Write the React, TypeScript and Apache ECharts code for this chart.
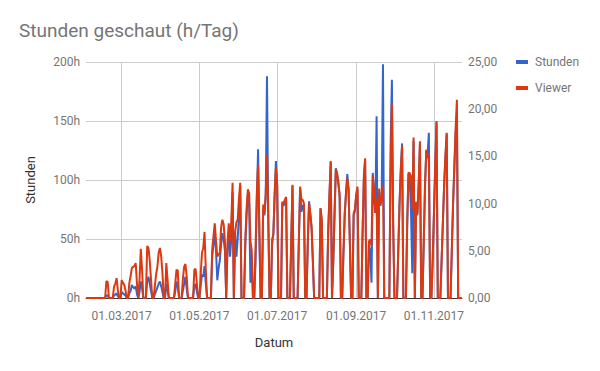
import React, { useEffect, useRef } from 'react';
import * as echarts from 'echarts';

// Axis range (daily categories from first to last day)
const firstDay = [2017, 2, 1];
const lastDay = [2017, 11, 23];
const tickLabels = ['01.03.2017', '01.05.2017', '01.07.2017', '01.09.2017', '01.11.2017'];

// Days with streams (all other days are 0)
const streamDates = [
  '17.02.2017', '18.02.2017', '23.02.2017', '24.02.2017', '25.02.2017', '26.02.2017',
  '01.03.2017', '02.03.2017', '03.03.2017', '04.03.2017', '07.03.2017', '08.03.2017',
  '09.03.2017', '10.03.2017', '11.03.2017', '12.03.2017', '13.03.2017', '15.03.2017',
  '16.03.2017', '17.03.2017', '21.03.2017', '22.03.2017', '23.03.2017', '24.03.2017',
  '27.03.2017', '28.03.2017', '29.03.2017', '30.03.2017', '31.03.2017', '01.04.2017',
  '02.04.2017', '05.04.2017', '06.04.2017', '12.04.2017', '13.04.2017', '14.04.2017',
  '18.04.2017', '19.04.2017', '20.04.2017', '21.04.2017', '27.04.2017', '28.04.2017',
  '29.04.2017', '02.05.2017', '03.05.2017', '04.05.2017', '05.05.2017', '06.05.2017',
  '11.05.2017', '12.05.2017', '13.05.2017', '14.05.2017', '15.05.2017', '16.05.2017',
  '17.05.2017', '18.05.2017', '19.05.2017', '20.05.2017', '21.05.2017', '23.05.2017',
  '24.05.2017', '25.05.2017', '26.05.2017', '27.05.2017', '29.05.2017', '30.05.2017',
  '31.05.2017', '01.06.2017', '02.06.2017', '06.06.2017', '07.06.2017', '08.06.2017',
  '09.06.2017', '10.06.2017', '11.06.2017', '14.06.2017', '15.06.2017', '16.06.2017',
  '17.06.2017', '20.06.2017', '21.06.2017', '22.06.2017', '23.06.2017', '24.06.2017',
  '27.06.2017', '28.06.2017', '29.06.2017', '30.06.2017', '01.07.2017', '05.07.2017',
  '06.07.2017', '07.07.2017', '08.07.2017', '12.07.2017', '13.07.2017', '18.07.2017',
  '19.07.2017', '20.07.2017', '21.07.2017', '22.07.2017', '25.07.2017', '26.07.2017',
  '27.07.2017', '28.07.2017', '29.07.2017', '04.08.2017', '05.08.2017', '10.08.2017',
  '11.08.2017', '12.08.2017', '14.08.2017', '15.08.2017', '16.08.2017', '17.08.2017',
  '18.08.2017', '19.08.2017', '22.08.2017', '23.08.2017', '24.08.2017', '25.08.2017',
  '26.08.2017', '27.08.2017', '30.08.2017', '31.08.2017', '01.09.2017', '02.09.2017',
  '06.09.2017', '07.09.2017', '08.09.2017', '11.09.2017', '12.09.2017', '13.09.2017',
  '14.09.2017', '15.09.2017', '16.09.2017', '17.09.2017', '19.09.2017', '20.09.2017',
  '21.09.2017', '22.09.2017', '28.09.2017', '29.09.2017', '30.09.2017', '04.10.2017',
  '05.10.2017', '06.10.2017', '07.10.2017', '11.10.2017', '12.10.2017', '13.10.2017',
  '14.10.2017', '15.10.2017', '16.10.2017', '18.10.2017', '19.10.2017', '20.10.2017',
  '21.10.2017', '24.10.2017', '25.10.2017', '26.10.2017', '27.10.2017', '28.10.2017',
  '31.10.2017', '01.11.2017', '02.11.2017', '03.11.2017', '07.11.2017', '08.11.2017',
  '09.11.2017', '10.11.2017', '11.11.2017', '15.11.2017', '16.11.2017', '17.11.2017',
  '18.11.2017', '19.11.2017',
];

const stunden = [
  2.5, 2, 2, 3, 4, 1.5,
  5, 4, 3, 2, 4, 6,
  11, 9, 8, 10, 3, 5,
  14, 8, 14, 18, 12, 6,
  3, 6, 9, 12, 14, 10,
  5, 12, 7, 5, 14, 10,
  6, 12, 18, 8, 10, 12,
  5, 10, 20, 18, 27, 12,
  35, 45, 55, 40, 15, 25,
  32, 45, 55, 50, 40, 40,
  55, 35, 50, 90, 55, 35,
  50, 70, 95, 45, 70, 88,
  80, 13, 35, 30, 80, 126,
  50, 75, 70, 85, 188, 65,
  45, 55, 85, 116, 95, 80,
  78, 82, 84, 45, 95, 48,
  93, 73, 78, 79, 45, 82,
  70, 58, 30, 76, 65, 55,
  85, 115, 30, 70, 110, 105,
  99, 85, 38, 70, 90, 105,
  92, 48, 70, 74, 86, 92,
  55, 100, 116, 45, 40, 13,
  106, 85, 72, 154, 90, 78,
  85, 198, 130, 185, 62, 40,
  80, 110, 131, 60, 105, 100,
  73, 21, 133, 80, 70, 95,
  130, 48, 95, 125, 122, 140,
  32, 72, 112, 150, 32, 64,
  96, 120, 140, 40, 80, 110,
  140, 150,
];

const viewer = [
  1.8, 1.7, 1.2, 1.5, 2.1, 0.8,
  1.9, 1.6, 1.4, 0.8, 1.6, 2.3,
  3.2, 3.3, 3.4, 3.7, 1.5, 2.0,
  5.2, 3.0, 5.5, 5.3, 4.0, 2.0,
  1.2, 2.5, 3.3, 4.8, 5.3, 4.4,
  2.6, 3.7, 1.9, 1.5, 3.0, 2.9,
  2.0, 3.3, 3.6, 2.3, 3.0, 3.1,
  1.5, 2.5, 4.8, 5.3, 7.0, 3.0,
  5.1, 6.5, 7.9, 6.1, 4.4, 4.6,
  4.8, 7.5, 8.3, 7.8, 6.0, 5.8,
  7.9, 6.0, 8.1, 12.2, 7.0, 8.0,
  8.3, 10.5, 12.2, 6.2, 9.5, 11.5,
  11.1, 6.0, 5.1, 5.1, 11.1, 14.1,
  8.0, 9.9, 9.0, 11.1, 15.2, 9.0,
  6.2, 6.7, 11.1, 13.8, 12.0, 10.2,
  10.0, 10.4, 10.7, 6.0, 12.0, 6.0,
  11.8, 10.4, 10.4, 10.0, 6.0, 10.0,
  9.0, 7.6, 4.0, 9.5, 8.3, 7.0,
  11.0, 14.5, 4.0, 9.0, 13.6, 13.2,
  12.0, 11.0, 5.0, 9.0, 11.0, 12.7,
  11.5, 6.0, 9.0, 9.4, 11.0, 11.8,
  7.0, 13.0, 14.8, 6.0, 6.2, 5.5,
  13.0, 11.5, 9.0, 10.5, 11.6, 10.0,
  10.5, 12.0, 14.0, 20.6, 7.9, 5.0,
  10.0, 13.5, 16.1, 8.0, 13.3, 13.2,
  12.9, 9.4, 17.0, 10.2, 9.0, 12.0,
  16.6, 6.0, 12.0, 15.7, 15.2, 14.5,
  4.0, 9.0, 14.0, 18.6, 4.0, 8.0,
  12.0, 15.0, 17.4, 5.0, 10.0, 14.0,
  18.0, 21.0,
];

const pad = (n: number) => (n < 10 ? '0' + n : '' + n);

function buildDays(): string[] {
  const out: string[] = [];
  const start = Date.UTC(firstDay[0], firstDay[1] - 1, firstDay[2]);
  const end = Date.UTC(lastDay[0], lastDay[1] - 1, lastDay[2]);
  for (let t = start; t <= end; t += 86400000) {
    const d = new Date(t);
    out.push(pad(d.getUTCDate()) + '.' + pad(d.getUTCMonth() + 1) + '.' + d.getUTCFullYear());
  }
  return out;
}

function seriesFor(days: string[], values: number[]): number[] {
  const m = new Map<string, number>();
  streamDates.forEach((d, i) => m.set(d, values[i]));
  return days.map((d) => (m.has(d) ? (m.get(d) as number) : 0));
}

const FONT = 'Roboto';

export default function App() {
  const ref = useRef<HTMLDivElement>(null);
  useEffect(() => {
    if (!ref.current) return;
    const chart = echarts.init(ref.current, undefined, { renderer: 'svg' });
    const days = buildDays();
    const isTick = (_i: number, v: string) => tickLabels.indexOf(v) >= 0;
    chart.setOption({
      animation: false,
      backgroundColor: '#ffffff',
      textStyle: { fontFamily: FONT },
      title: {
        text: 'Stunden geschaut (h/Tag)',
        left: 19,
        top: 21,
        padding: 0,
        textStyle: { fontFamily: FONT, fontSize: 19, fontWeight: 'normal', color: '#757575' },
      },
      legend: {
        orient: 'vertical',
        left: 511,
        top: 51,
        itemWidth: 12,
        itemHeight: 4,
        itemGap: 14,
        icon: 'rect',
        textStyle: { fontFamily: FONT, fontSize: 12, color: '#757575', padding: [0, 0, 0, 2] },
        data: ['Stunden', 'Viewer'],
      },
      grid: { left: 86, right: 138, top: 62, bottom: 73, containLabel: false },
      xAxis: {
        type: 'category',
        data: days,
        boundaryGap: false,
        name: 'Datum',
        nameLocation: 'middle',
        nameGap: 38,
        nameTextStyle: { fontFamily: FONT, fontSize: 13, color: '#333' },
        axisLine: { show: true, lineStyle: { color: '#333', width: 1 } },
        axisTick: { show: false },
        axisLabel: { interval: isTick, fontFamily: FONT, fontSize: 12, color: '#757575', margin: 12 },
        splitLine: { show: true, interval: isTick, lineStyle: { color: '#cccccc', width: 1 } },
      },
      yAxis: [
        {
          type: 'value',
          min: 0,
          max: 200,
          interval: 50,
          name: 'Stunden',
          nameLocation: 'middle',
          nameGap: 49,
          nameRotate: 90,
          nameTextStyle: { fontFamily: FONT, fontSize: 13, color: '#333' },
          axisLine: { show: false },
          axisTick: { show: false },
          axisLabel: { formatter: '{value}h', fontFamily: FONT, fontSize: 12, color: '#757575', margin: 6 },
          splitLine: { show: true, lineStyle: { color: '#cccccc', width: 1 } },
        },
        {
          type: 'value',
          min: 0,
          max: 25,
          interval: 5,
          axisLine: { show: false },
          axisTick: { show: false },
          axisLabel: {
            formatter: (v: number) => v.toFixed(2).replace('.', ','),
            fontFamily: FONT,
            fontSize: 12,
            color: '#757575',
            margin: 6,
          },
          splitLine: { show: false },
        },
      ],
      series: [
        {
          name: 'Stunden',
          type: 'line',
          yAxisIndex: 0,
          data: seriesFor(days, stunden),
          showSymbol: false,
          symbol: 'none',
          itemStyle: { color: '#3366cc' },
          lineStyle: { color: '#3366cc', width: 2 },
        },
        {
          name: 'Viewer',
          type: 'line',
          yAxisIndex: 1,
          data: seriesFor(days, viewer),
          showSymbol: false,
          symbol: 'none',
          itemStyle: { color: '#dc3912' },
          lineStyle: { color: '#dc3912', width: 2 },
        },
      ],
    });
    return () => chart.dispose();
  }, []);
  return (
    <div
      ref={ref}
      style={{ position: 'fixed', left: 0, top: 0, width: 600, height: 371, background: '#fff' }}
    />
  );
}
